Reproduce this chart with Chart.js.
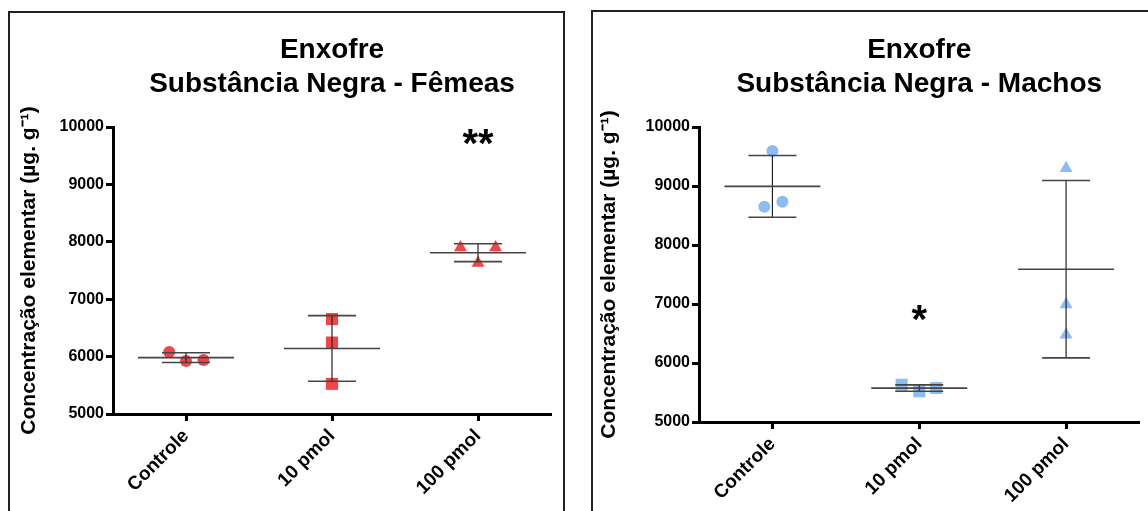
<!DOCTYPE html>
<html>
<head>
<meta charset="utf-8">
<script src="https://cdn.jsdelivr.net/npm/chart.js@4"></script>
<style>
  body { margin: 0; background: #fff; width: 1148px; height: 511px; overflow: hidden; position: relative; }
  .painel { position: absolute; border: 2px solid #222; box-sizing: border-box; }
  #p1 { left: 8px; top: 11px; width: 557px; height: 560px; }
  #p2 { left: 591px; top: 10px; width: 600px; height: 560px; }
  canvas { position: absolute; top: 0; }
  #g1 { left: 0; }
  #g2 { left: 575px; }
</style>
</head>
<body>
<div class="painel" id="p1"></div>
<div class="painel" id="p2"></div>
<canvas id="g1" width="575" height="511"></canvas>
<canvas id="g2" width="573" height="511"></canvas>
<script>
const categorias = ["Controle", "10 pmol", "100 pmol"];
const ticksY = [5000, 6000, 7000, 8000, 9000, 10000];

// Fêmeas
const femControle = [6080, 5925, 5940];
const fem10 = [6655, 6245, 5525];
const fem100 = [7900, 7900, 7630];
const femJitter = [[-0.115, 0, 0.12], [0, 0, 0], [-0.12, 0.12, 0]];
const femSignif = ["", "", "**"];
const femSignifY = [null, null, 9870];

// Machos
const macControle = [9595, 8650, 8735];
const mac10 = [5630, 5520, 5575];
const mac100 = [9300, 6990, 6480];
const macJitter = [[0, -0.055, 0.068], [-0.12, 0, 0.115], [0, 0, 0]];
const macSignif = ["", "*", ""];
const macSignifY = [null, 6900, null];

const formas = ["circle", "rect", "triangle"];
const raios = { circle: 6, rect: 8.5, triangle: 7.5 };
const fonte = '"Liberation Sans", Arial, sans-serif';

Chart.defaults.font.family = fonte;
Chart.defaults.color = "#000";

// média ± DP de cada grupo
const barras = {
  id: "barras",
  afterDatasetsDraw(chart) {
    const { ctx, scales: { x, y } } = chart;
    const linha = (x1, y1, x2, y2) => { ctx.beginPath(); ctx.moveTo(x1, y1); ctx.lineTo(x2, y2); ctx.stroke(); };
    ctx.save();
    chart.data.datasets.forEach((ds, g) => {
      const v = ds.data.map(p => p.y);
      const m = v.reduce((a, b) => a + b, 0) / v.length;
      const sd = Math.sqrt(v.reduce((a, b) => a + (b - m) ** 2, 0) / (v.length - 1));
      const cx = x.getPixelForValue(g);
      const ym = y.getPixelForValue(m), yt = y.getPixelForValue(m + sd), yb = y.getPixelForValue(m - sd);
      ctx.strokeStyle = "#222"; ctx.lineWidth = 1.2;
      linha(cx, yt, cx, yb);
      ctx.strokeStyle = "#444"; ctx.lineWidth = 1.6;
      linha(cx - 24, yt, cx + 24, yt);
      linha(cx - 24, yb, cx + 24, yb);
      linha(cx - 48, ym, cx + 48, ym);
    });
    ctx.restore();
  }
};

// título e asteriscos
const textos = {
  id: "textos",
  afterDraw(chart, args, opts) {
    const { ctx, chartArea, scales: { x, y } } = chart;
    ctx.save();
    ctx.fillStyle = "#000";
    ctx.textAlign = "center";
    ctx.textBaseline = "middle";
    ctx.font = "bold 28px " + fonte;
    const cx = (chartArea.left + chartArea.right) / 2;
    opts.titulo.forEach((t, i) => ctx.fillText(t, cx, 50 + i * 34));
    ctx.font = "bold 40px " + fonte;
    ctx.textBaseline = "alphabetic";
    opts.signif.forEach((s, g) => {
      if (!s) return;
      ctx.fillText(s, x.getPixelForValue(g), y.getPixelForValue(opts.signifY[g]) + 0.57 * 40);
    });
    ctx.restore();
  }
};

function criarGrafico(id, titulo, series, jitter, cor, signif, signifY, lay) {
  const datasets = series.map((vals, g) => ({
    data: vals.map((v, i) => ({ x: g + jitter[g][i], y: v })),
    pointStyle: formas[g],
    pointRadius: raios[formas[g]],
    pointHoverRadius: raios[formas[g]],
    backgroundColor: cor,
    borderWidth: 0
  }));
  const grade = { drawOnChartArea: false, drawTicks: true, tickLength: 7, tickWidth: 3, tickColor: "#000" };
  const borda = { display: true, width: 3, color: "#000" };
  return new Chart(document.getElementById(id), {
    type: "scatter",
    data: { datasets },
    options: {
      responsive: false,
      animation: false,
      events: [],
      layout: { padding: { left: 0, right: lay.right, top: lay.top, bottom: 0 } },
      plugins: {
        legend: { display: false },
        tooltip: { enabled: false },
        textos: { titulo, signif, signifY }
      },
      scales: {
        x: {
          type: "linear", min: -0.5, max: 2.5,
          afterBuildTicks: s => { s.ticks = categorias.map((c, i) => ({ value: i })); },
          afterFit: s => { s.height = lay.xAltura; },
          ticks: { callback: v => categorias[v], minRotation: 45, maxRotation: 45, autoSkip: false,
                   font: { size: 19, weight: "bold" }, color: "#000", padding: 4 },
          grid: grade,
          border: borda
        },
        y: {
          min: 5000, max: 10000,
          afterBuildTicks: s => { s.ticks = ticksY.map(v => ({ value: v })); },
          afterFit: s => { s.width = lay.yLargura; },
          ticks: { callback: v => String(v), font: { size: 16, weight: "bold" }, color: "#000", padding: 2 },
          grid: grade,
          border: borda,
          title: { display: true, text: "Concentração elementar (µg. g⁻¹)",
                   font: { size: 21, weight: "bold" }, color: "#000",
                   padding: { top: lay.tituloY, bottom: 0 } }
        }
      }
    },
    plugins: [barras, textos]
  });
}

criarGrafico("g1", ["Enxofre", "Substância Negra - Fêmeas"],
  [femControle, fem10, fem100], femJitter, "#f24545", femSignif, femSignifY,
  { right: 24, top: 127, xAltura: 97, yLargura: 113, tituloY: 16.4 });

criarGrafico("g2", ["Enxofre", "Substância Negra - Machos"],
  [macControle, mac10, mac100], macJitter, "#8cbcf4", macSignif, macSignifY,
  { right: 2, top: 127, xAltura: 89, yLargura: 124, tituloY: 21.4 });
</script>
</body>
</html>
